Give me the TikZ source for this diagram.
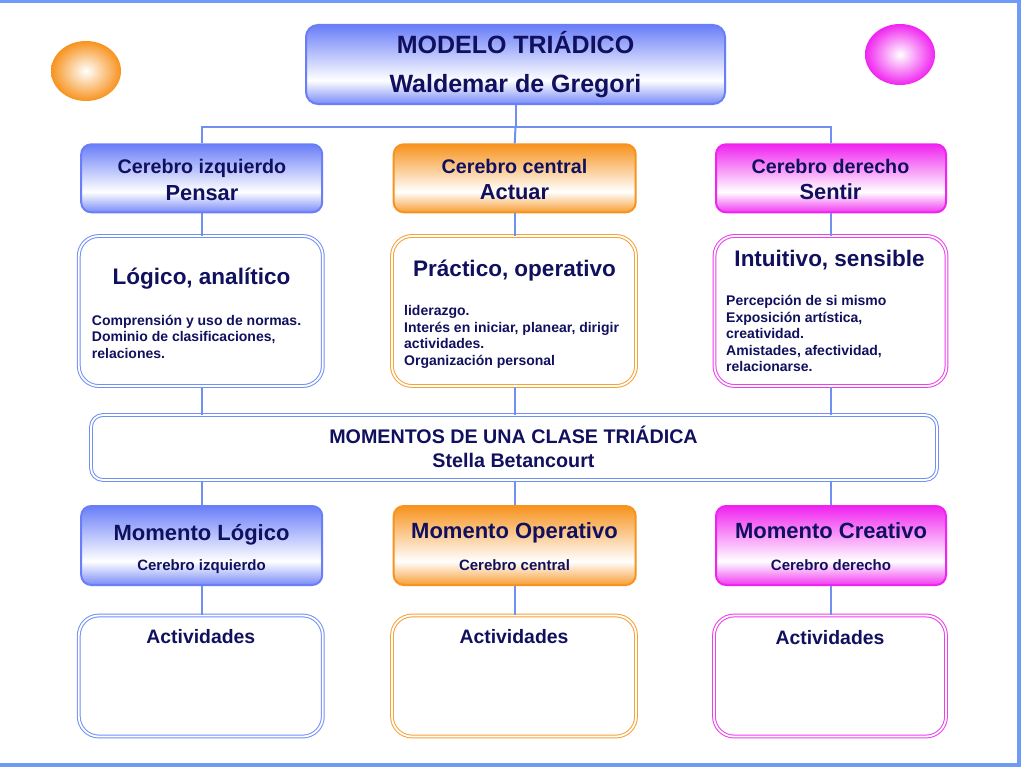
\documentclass[tikz,border=0pt]{standalone}
\usepackage{fontspec}
\setmainfont{Liberation Sans}
\definecolor{ink}{HTML}{10105E}
\definecolor{rimblue}{HTML}{6E9AF8}
\definecolor{wireblue}{HTML}{6F90EE}
\definecolor{cardblue}{HTML}{6A7EF8}
\definecolor{cardorange}{HTML}{F7931E}
\definecolor{cardpink}{HTML}{F024F0}
\definecolor{edgeblue}{HTML}{7090F4}
\definecolor{edgeorange}{HTML}{F6A236}
\definecolor{edgepink}{HTML}{EE3CEE}
\newcommand\cardshading[2]{%
  \pgfdeclareverticalshading{#1}{100bp}{color(0bp)=(#2!90!white); color(25bp)=(#2!90!white);
    color(40bp)=(white); color(75bp)=(#2); color(100bp)=(#2)}}
\cardshading{shadeblue}{cardblue}
\cardshading{shadeorange}{cardorange}
\cardshading{shadepink}{cardpink}
\tikzset{
  card/.style={draw=card#1, shading=shade#1, line width=2pt, rounded corners=10pt, inner sep=0pt},
  panel/.style={draw=edge#1, double=white, double distance=1.8pt, line width=1pt,
    rounded corners=20pt, fill=white, inner sep=0pt},
  wire/.style={draw=wireblue, line width=2pt},
  txt/.style={text=ink, inner sep=0pt, anchor=base, font=\fontsize{#1}{#1}\selectfont\bfseries},
  body/.style={text=ink, inner sep=0pt, anchor=base west, align=left,
    font=\fontsize{14}{16.5}\selectfont\bfseries},
  bulb/.style={inner color=white, outer color=#1}
}
\begin{document}
\begin{tikzpicture}[x=1pt,y=-1pt]
  \useasboundingbox (0,0) rectangle (1024,768);
  \fill[white] (0,0) rectangle (1024,768);
  %% frame
  \draw[rimblue, line width=4pt] (0,1.5) -- (1018.5,1.5) -- (1018.5,765) -- (0,765);
  %% bulbs
  \shade[bulb=cardorange] (86,71) ellipse (35 and 30);
  \shade[bulb=cardpink] (900,54.5) ellipse (35 and 30.5);
  %% title
  \node[card=blue, rounded corners=12pt, minimum width=419pt, minimum height=79pt] (title) at (515.5,64.5) {};
  \node[txt=25] (title-a) at (515.5,53.3) {MODELO TRIÁDICO};
  \node[txt=25] (title-b) at (515.5,92.7) {Waldemar de Gregori};
  %% brains
  \node[card=blue, minimum width=241pt, minimum height=68pt] (izq) at (201.7,178.3) {};
  \node[card=orange, minimum width=242pt, minimum height=68pt] (cen) at (514.7,178.3) {};
  \node[card=pink, minimum width=230pt, minimum height=68pt] (der) at (831,178.3) {};
  \node[txt=19.7] (izq-a) at (202,173) {Cerebro izquierdo};
  \node[txt=21.8] (izq-b) at (202,200) {Pensar};
  \node[txt=19.7] (cen-a) at (514.5,173.3) {Cerebro central};
  \node[txt=21.8] (cen-b) at (514.5,199.3) {Actuar};
  \node[txt=19.7] (der-a) at (830.5,173.3) {Cerebro derecho};
  \node[txt=21.8] (der-b) at (830.5,199.3) {Sentir};
  %% traits
  \node[panel=blue, minimum width=244pt, minimum height=150pt] (logico) at (200.8,311) {};
  \node[panel=orange, minimum width=244pt, minimum height=150pt] (practico) at (514,311) {};
  \node[panel=pink, minimum width=232pt, minimum height=150pt] (intuitivo) at (830.5,311) {};
  \node[txt=22.5] (logico-t) at (201.5,284) {Lógico, analítico};
  \node[body] (logico-b) at (91.7,358.3) {Comprensión y uso de normas.\\Dominio de clasificaciones,\\relaciones.};
  \node[txt=22.5] (practico-t) at (514.5,276.7) {Práctico, operativo};
  \node[body] (practico-b) at (404,365) {liderazgo.\\Interés en iniciar, planear, dirigir\\actividades.\\Organización personal};
  \node[txt=22.5] (intuitivo-t) at (829.5,266.7) {Intuitivo, sensible};
  \node[body] (intuitivo-b) at (726,371.7) {Percepción de si mismo\\Exposición artística,\\creatividad.\\Amistades, afectividad,\\relacionarse.};
  %% moments
  \node[panel=blue, rounded corners=12pt, minimum width=846pt, minimum height=65pt] (clase) at (514,447.5) {};
  \node[txt=19.7] (clase-a) at (513.5,443.3) {MOMENTOS DE UNA CLASE TRIÁDICA};
  \node[txt=19.7] (clase-b) at (513.5,467.3) {Stella Betancourt};
  \node[card=blue, minimum width=241pt, minimum height=79pt] (mlog) at (201.7,545.5) {};
  \node[card=orange, minimum width=242pt, minimum height=79pt] (mope) at (514.7,545.5) {};
  \node[card=pink, minimum width=230pt, minimum height=79pt] (mcre) at (831,545.5) {};
  \node[txt=22] (mlog-a) at (201.5,540) {Momento Lógico};
  \node[txt=15] (mlog-b) at (201.5,570) {Cerebro izquierdo};
  \node[txt=22] (mope-a) at (514.5,538.3) {Momento Operativo};
  \node[txt=15] (mope-b) at (514.5,570.5) {Cerebro central};
  \node[txt=22] (mcre-a) at (831,538.3) {Momento Creativo};
  \node[txt=15] (mcre-b) at (831,570.3) {Cerebro derecho};
  %% activities
  \node[panel=blue, minimum width=244pt, minimum height=121pt] (act-l) at (200.8,676) {};
  \node[panel=orange, minimum width=244pt, minimum height=121pt] (act-c) at (514,676) {};
  \node[panel=pink, minimum width=232pt, minimum height=121pt] (act-r) at (830,676) {};
  \node[txt=19.4] (act-l-t) at (200.8,643.5) {Actividades};
  \node[txt=19.4] (act-c-t) at (514,643.5) {Actividades};
  \node[txt=19.4] (act-r-t) at (830,644) {Actividades};
  %% connectors
  \path (title.south) ++(0,22) coordinate (hub);
  \draw[wire] (title.south) -- (hub);
  \draw[wire] (izq.north) |- (hub) -| (der.north);
  \draw[wire] (hub) -- (cen.north);
  \draw[wire] (izq.south) -- (izq.south |- logico.north);
  \draw[wire] (cen.south) -- (cen.south |- practico.north);
  \draw[wire] (der.south) -- (der.south |- intuitivo.north);
  \draw[wire] (izq.south |- logico.south) -- (izq.south |- clase.north);
  \draw[wire] (cen.south |- practico.south) -- (cen.south |- clase.north);
  \draw[wire] (der.south |- intuitivo.south) -- (der.south |- clase.north);
  \draw[wire] (mlog.north |- clase.south) -- (mlog.north);
  \draw[wire] (mope.north |- clase.south) -- (mope.north);
  \draw[wire] (mcre.north |- clase.south) -- (mcre.north);
  \draw[wire] (mlog.south) -- (mlog.south |- act-l.north);
  \draw[wire] (mope.south) -- (mope.south |- act-c.north);
  \draw[wire] (mcre.south) -- (mcre.south |- act-r.north);
\end{tikzpicture}
\end{document}
